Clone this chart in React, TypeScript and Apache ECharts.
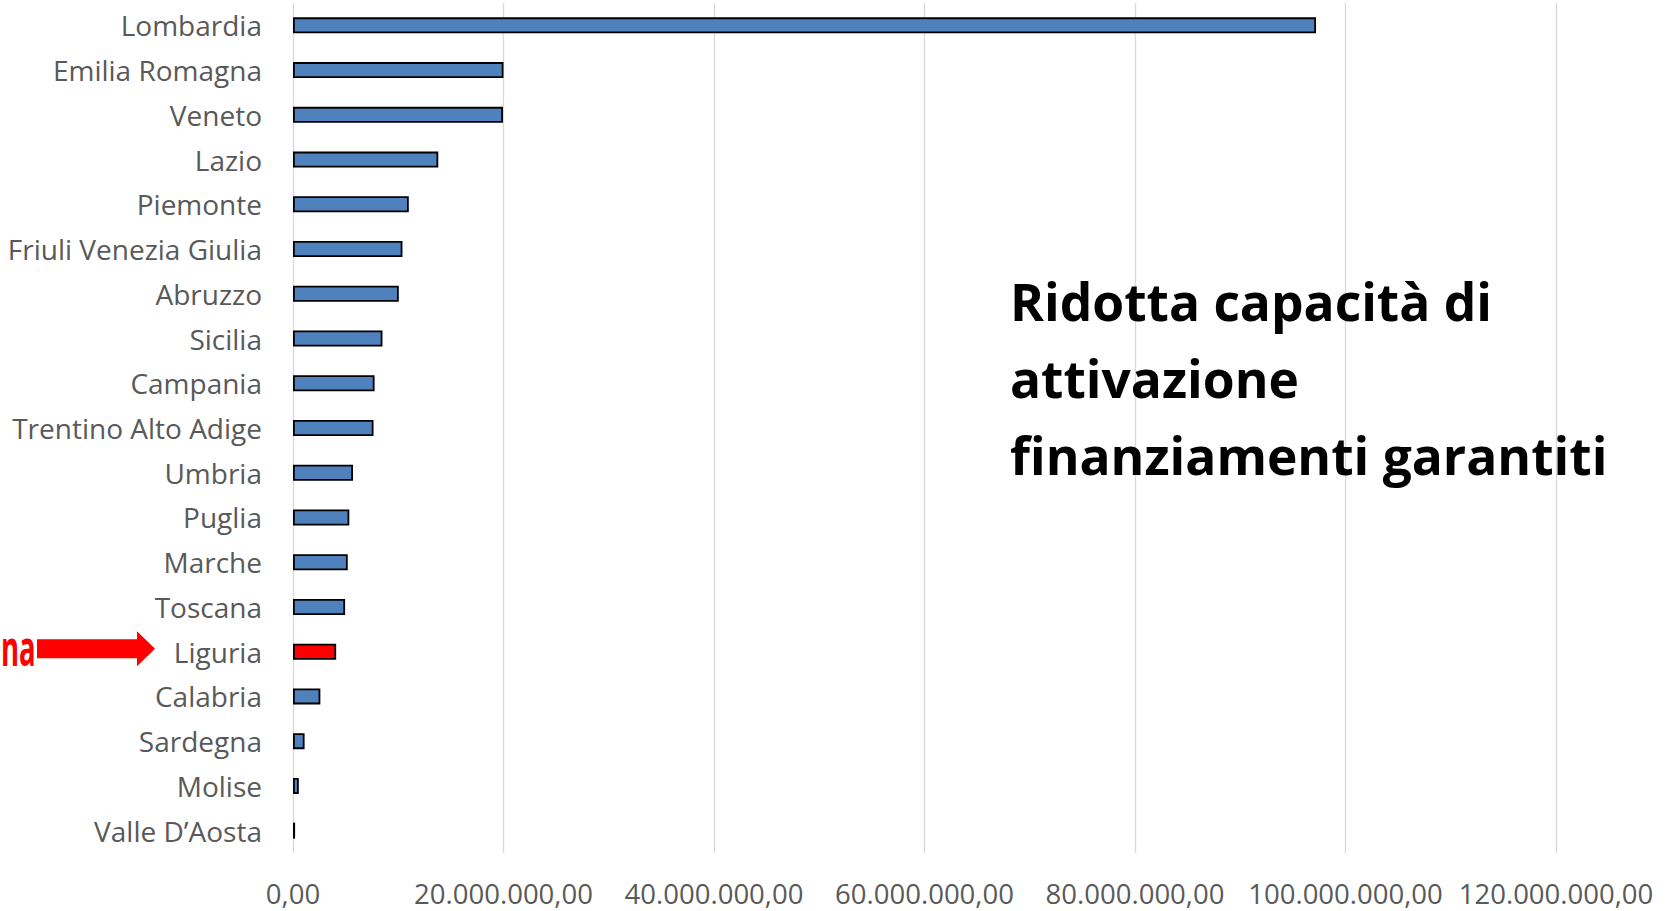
import React, { useEffect, useRef } from "react";
import * as echarts from "echarts";

const regions: string[] = [
  "Lombardia",
  "Emilia Romagna",
  "Veneto",
  "Lazio",
  "Piemonte",
  "Friuli Venezia Giulia",
  "Abruzzo",
  "Sicilia",
  "Campania",
  "Trentino Alto Adige",
  "Umbria",
  "Puglia",
  "Marche",
  "Toscana",
  "Liguria",
  "Calabria",
  "Sardegna",
  "Molise",
  "Valle D\u2019Aosta",
];

const values: number[] = [
  97200000, 20000000, 19950000, 13800000, 11000000, 10400000, 10050000,
  8500000, 7750000, 7650000, 5700000, 5350000, 5200000, 4950000, 4100000,
  2600000, 1100000, 550000, 200000,
];

const highlighted = "Liguria";
const titleLines: string[] = [
  "Ridotta capacit\u00e0 di",
  "attivazione",
  "finanziamenti garantiti",
];
const sideLabel = "na";

const axisMin = 0;
const axisMax = 120000000;
const axisInterval = 20000000;

function formatIt(v: number): string {
  const s = Math.round(v)
    .toString()
    .replace(/\B(?=(\d{3})+(?!\d))/g, ".");
  return s + ",00";
}

export default function App() {
  const ref = useRef<HTMLDivElement>(null);

  useEffect(() => {
    document.body.style.margin = "0";
    if (!ref.current) return;
    const chart = echarts.init(ref.current, null, { renderer: "svg" });
    const font = "'Open Sans', 'Noto Sans', sans-serif";

    chart.setOption({
      animation: false,
      backgroundColor: "#ffffff",
      grid: { left: 293, right: 117, top: 3, bottom: 58, containLabel: false },
      xAxis: {
        type: "value",
        min: axisMin,
        max: axisMax,
        interval: axisInterval,
        axisLine: { show: false },
        axisTick: { show: false },
        splitLine: { show: true, lineStyle: { color: "#d9d9d9", width: 1.3 } },
        axisLabel: {
          formatter: (v: number) => formatIt(v),
          color: "#595959",
          fontSize: 27.5,
          lineHeight: 24,
          fontFamily: font,
          margin: 28,
        },
      },
      yAxis: {
        type: "category",
        data: regions,
        inverse: true,
        axisLine: { show: false },
        axisTick: { show: false },
        splitLine: { show: false },
        axisLabel: {
          color: "#595959",
          fontSize: 28,
          fontFamily: font,
          margin: 31,
        },
      },
      series: [
        {
          type: "bar",
          barWidth: 16,
          data: values.map((v, i) => ({
            value: v,
            itemStyle: {
              color: regions[i] === highlighted ? "#ff0000" : "#4f81bd",
              borderColor: "#000000",
              borderWidth: 1.8,
            },
          })),
        },
      ],
    });

    const ly = chart.convertToPixel({ yAxisIndex: 0 }, highlighted) as number;
    const ay = ly - 3;

    chart.setOption({
      graphic: [
        ...titleLines.map((t, i) => ({
          type: "text",
          left: 1010,
          top: 275 + i * 77,
          style: {
            text: t,
            fontSize: 51.5,
            fontWeight: "bold",
            fontFamily: font,
            fill: "#000000",
          },
        })),
        {
          type: "text",
          x: 1,
          y: ay - 2,
          scaleX: 0.55,
          style: {
            text: sideLabel,
            fontSize: 50,
            fontWeight: "bold",
            fontFamily: font,
            fill: "#ff0000",
            align: "left",
            verticalAlign: "middle",
          },
        },
        {
          type: "polygon",
          shape: {
            points: [
              [37, ay - 9.5],
              [137, ay - 9.5],
              [137, ay - 17.5],
              [155, ay],
              [137, ay + 17.5],
              [137, ay + 9.5],
              [37, ay + 9.5],
            ],
          },
          style: { fill: "#ff0000" },
        },
      ],
    });

    return () => chart.dispose();
  }, []);

  return <div ref={ref} style={{ width: 1673, height: 911 }} />;
}
